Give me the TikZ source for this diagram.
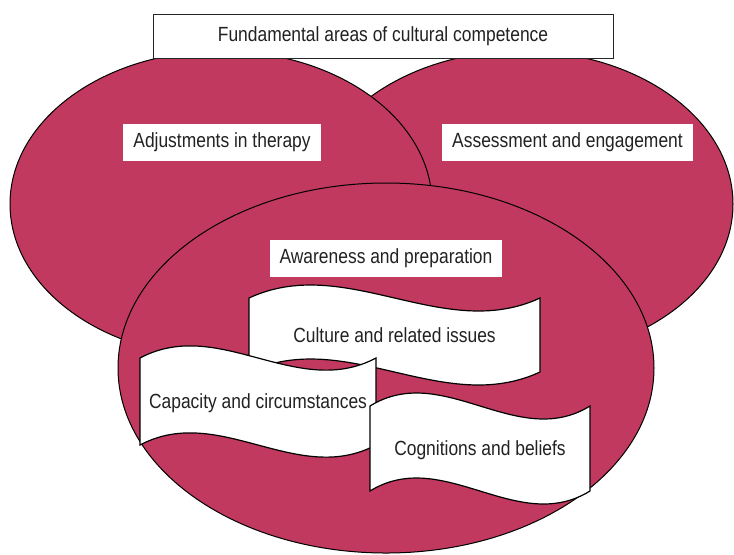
\documentclass[tikz,border=0pt]{standalone}
\usepackage{fontspec}
\setmainfont[FakeStretch=0.85]{Liberation Sans}
\definecolor{areared}{HTML}{C1395E}
\definecolor{inkgray}{HTML}{222222}
\begin{document}
\begin{tikzpicture}[x=0.5pt,y=-0.5pt,
    area/.style={fill=areared,draw=black,line width=0.5pt},
    flag/.style={fill=white,draw=black,line width=0.6pt},
    lbl/.style={fill=white,inner xsep=5pt,inner ysep=0pt,minimum height=18.5pt},
    every node/.style={text=inkgray,font=\fontsize{10.25}{11}\selectfont}]
                 \useasboundingbox (0,0) rectangle (734,554);
                 % the three areas
                 \draw[area] (521.5,204) ellipse [x radius=105.75pt, y radius=76.5pt];
                 \draw[area] (221,204) ellipse [x radius=105.5pt, y radius=76.5pt];
                 \draw[area] (386,368) ellipse [x radius=134pt, y radius=92.5pt];
                 \node[draw=black!85,line width=0.5pt,fill=white,minimum width=230pt,minimum height=22pt] (title) at (383,36) {Fundamental areas of cultural competence};
                 \node[lbl] (adjust) at (222,142.5) {Adjustments in therapy};
                 \node[lbl] (assess) at (567.5,142.5) {Assessment and engagement};
                 \node[lbl] (aware) at (386,258) {Awareness and preparation};
                 % wavy flags
                 \draw[flag] (249,298) .. controls (346,253) and (443,343) .. (540,298) -- (540,372) .. controls (443,417) and (346,327) .. (249,372) -- cycle;
                 \node (culture) at (394.5,335.5) {Culture and related issues};
                 \draw[flag] (140,358) .. controls (219,316) and (297,400) .. (376,358) -- (376,445) .. controls (297,487) and (219,403) .. (140,445) -- cycle;
                 \node (capacity) at (258,403) {Capacity and circumstances};
                 \draw[flag] (370,406) .. controls (443,361) and (517,451) .. (590,406) -- (590,491) .. controls (517,536) and (443,446) .. (370,491) -- cycle;
                 \node (cognition) at (480,450) {Cognitions and beliefs};
\end{tikzpicture}
\end{document}
